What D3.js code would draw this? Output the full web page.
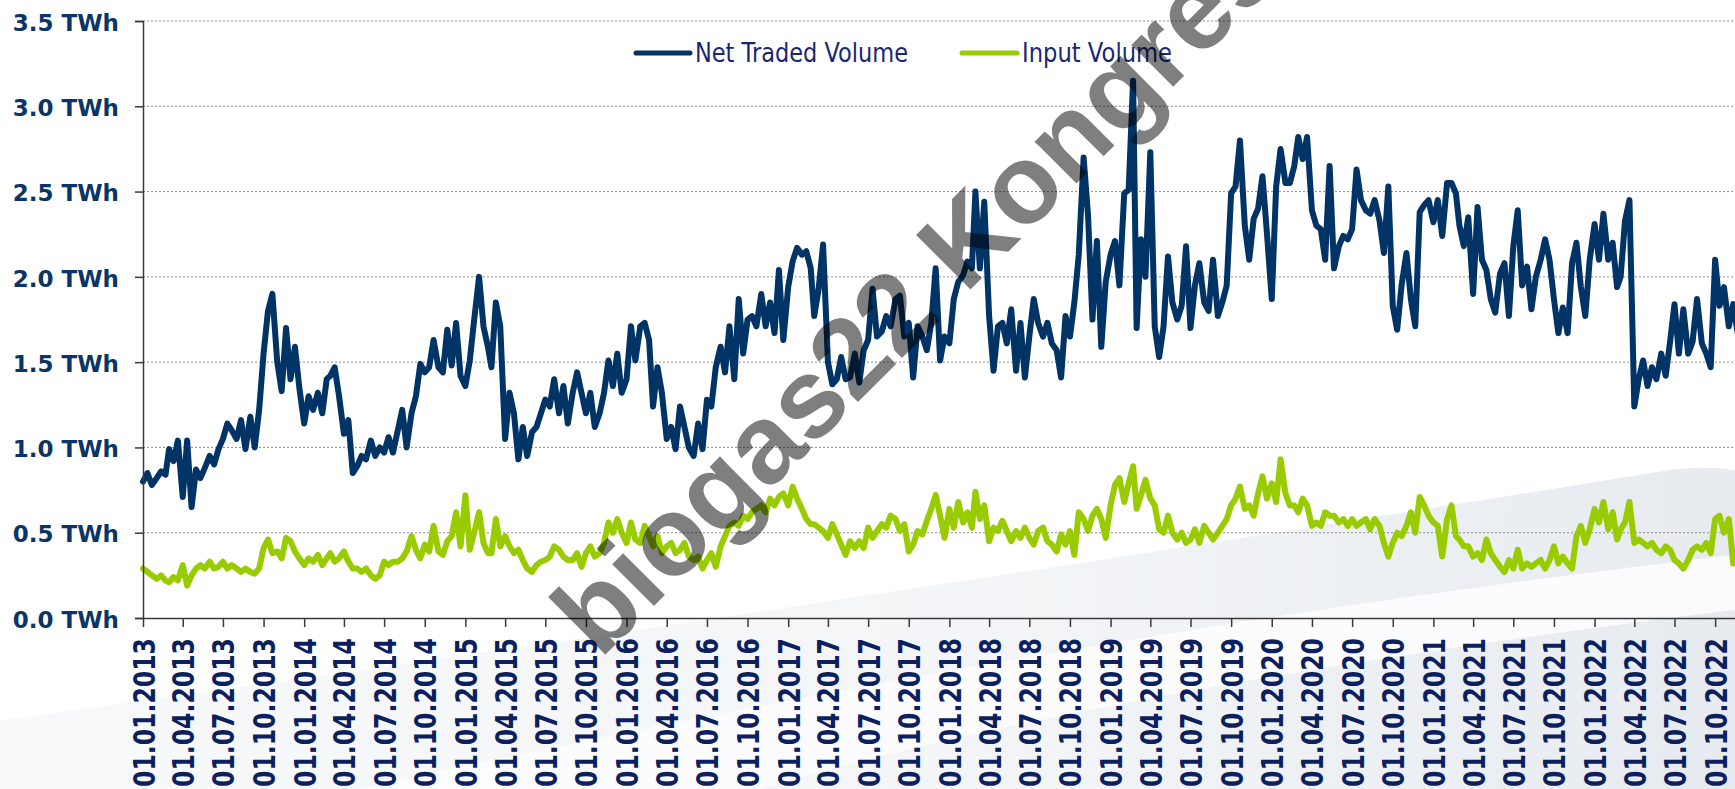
<!DOCTYPE html>
<html><head><meta charset="utf-8">
<script src="https://cdn.jsdelivr.net/npm/d3@7"></script>
<style>body{margin:0;background:#fff}svg{display:block}</style>
</head><body><svg id="c" width="1735" height="789"></svg>
<script>
// ---- data (TWh), three readings per month: days 1, 11, 21 ----
const sampleDays = [1, 11, 21];
const firstMonth = [2013, 0];
const lastMonth = [2022, 10];

const net2013 = [0.80,0.85,0.78, 0.82,0.86,0.84, 0.99,0.92,1.04, 0.71,1.04,0.65, 0.87,0.82,0.88, 0.95,0.90,0.99, 1.05,1.14,1.10, 1.05,1.16,0.99, 1.18,1.00,1.22, 1.55,1.80,1.90, 1.50,1.33,1.70, 1.40,1.59,1.35];
const net2014 = [1.14,1.30,1.22, 1.32,1.20,1.40, 1.42,1.47,1.30, 1.08,1.16,0.85, 0.89,0.95,0.93, 1.04,0.95,1.00, 0.97,1.06,0.97, 1.10,1.22,1.00, 1.20,1.30,1.49, 1.44,1.47,1.63, 1.47,1.44,1.69, 1.48,1.73,1.42];
const net2015 = [1.36,1.51,1.75, 2.00,1.71,1.59, 1.47,1.85,1.71, 1.05,1.32,1.20, 0.93,1.12,0.95, 1.09,1.12,1.20, 1.28,1.24,1.40, 1.20,1.36,1.14, 1.32,1.44,1.32, 1.20,1.32,1.12, 1.20,1.32,1.51, 1.36,1.55,1.32];
const net2016 = [1.40,1.71,1.51, 1.71,1.73,1.63, 1.24,1.47,1.32, 1.05,1.12,0.99, 1.24,1.12,1.00, 0.95,1.14,0.99, 1.28,1.24,1.47, 1.59,1.44,1.71, 1.40,1.87,1.55, 1.75,1.77,1.71, 1.90,1.71,1.85, 1.67,2.04,1.63];
const net2017 = [1.94,2.09,2.17, 2.13,2.15,2.05, 1.77,1.93,2.19, 1.50,1.37,1.40, 1.53,1.40,1.41, 1.55,1.38,1.57, 1.63,1.93,1.65, 1.68,1.77,1.71, 1.87,1.89,1.65, 1.73,1.41,1.71, 1.65,1.57,1.73, 2.05,1.51,1.65];
const net2018 = [1.61,1.87,1.97, 2.01,2.09,2.05, 2.50,2.05,2.44, 1.77,1.45,1.71, 1.73,1.61,1.81, 1.45,1.73,1.41, 1.65,1.87,1.73, 1.65,1.73,1.61, 1.57,1.41,1.77, 1.65,1.85,2.13, 2.70,2.36,1.75, 2.21,1.59,1.97];
const net2019 = [2.13,2.21,1.95, 2.49,2.51,3.15, 1.70,2.22,2.00, 2.73,1.71,1.53, 1.71,2.12,1.85, 1.75,1.83,2.18, 1.70,1.95,2.08, 1.85,1.80,2.10, 1.77,1.85,1.95, 2.49,2.53,2.80, 2.30,2.10,2.34, 2.40,2.59,2.26];
const net2020 = [1.87,2.53,2.75, 2.55,2.55,2.65, 2.82,2.69,2.82, 2.39,2.30,2.28, 2.10,2.65,2.05, 2.18,2.24,2.22, 2.28,2.63,2.45, 2.39,2.37,2.45, 2.33,2.14,2.53, 1.83,1.69,1.95, 2.14,1.87,1.71, 2.38,2.42,2.45];
const net2021 = [2.32,2.45,2.24, 2.55,2.55,2.49, 2.30,2.18,2.35, 1.90,2.41,2.10, 2.04,1.87,1.79, 2.02,2.08,1.77, 2.18,2.39,1.95, 2.06,1.81,2.00, 2.10,2.22,2.10, 1.87,1.67,1.82, 1.67,2.08,2.20, 1.94,1.77,2.10];
const net2022 = [2.31,2.10,2.37, 2.10,2.20,1.94, 2.00,2.33,2.45, 1.24,1.40,1.51, 1.36,1.47,1.40, 1.55,1.42,1.62, 1.84,1.55,1.81, 1.55,1.62,1.87, 1.61,1.55,1.47, 2.10,1.83,1.94, 1.71,1.84,1.67];

const inp2013 = [0.29,0.27,0.25, 0.23,0.25,0.22, 0.21,0.24,0.22, 0.31,0.19,0.25, 0.29,0.31,0.29, 0.33,0.29,0.30, 0.33,0.29,0.31, 0.29,0.27,0.29, 0.27,0.26,0.29, 0.41,0.46,0.38, 0.39,0.35,0.47, 0.45,0.39,0.35];
const inp2014 = [0.31,0.35,0.33, 0.37,0.31,0.35, 0.38,0.33,0.35, 0.39,0.33,0.29, 0.29,0.27,0.29, 0.25,0.23,0.25, 0.33,0.31,0.33, 0.33,0.35,0.39, 0.48,0.40,0.35, 0.43,0.39,0.54, 0.39,0.37,0.45, 0.48,0.62,0.42];
const inp2015 = [0.72,0.40,0.50, 0.62,0.44,0.38, 0.38,0.58,0.42, 0.48,0.42,0.38, 0.40,0.34,0.29, 0.27,0.31,0.33, 0.34,0.36,0.42, 0.40,0.36,0.34, 0.34,0.38,0.30, 0.38,0.42,0.36, 0.38,0.44,0.56, 0.50,0.58,0.50];
const inp2016 = [0.44,0.56,0.46, 0.44,0.54,0.48, 0.42,0.48,0.38, 0.42,0.44,0.38, 0.40,0.44,0.36, 0.34,0.36,0.29, 0.34,0.38,0.30, 0.42,0.48,0.54, 0.56,0.54,0.60, 0.58,0.62,0.64, 0.66,0.62,0.70, 0.66,0.71,0.73];
const inp2017 = [0.66,0.77,0.70, 0.64,0.58,0.55, 0.55,0.53,0.51, 0.47,0.55,0.49, 0.43,0.37,0.45, 0.41,0.45,0.41, 0.53,0.47,0.51, 0.55,0.53,0.60, 0.58,0.51,0.55, 0.39,0.43,0.51, 0.49,0.57,0.64, 0.72,0.60,0.47];
const inp2018 = [0.64,0.53,0.68, 0.56,0.62,0.53, 0.74,0.58,0.66, 0.45,0.53,0.51, 0.57,0.51,0.45, 0.51,0.47,0.53, 0.47,0.43,0.51, 0.53,0.45,0.43, 0.39,0.49,0.43, 0.51,0.37,0.62, 0.58,0.51,0.60, 0.64,0.58,0.47];
const inp2019 = [0.66,0.78,0.82, 0.68,0.79,0.89, 0.64,0.72,0.81, 0.70,0.66,0.52, 0.50,0.60,0.50, 0.46,0.50,0.44, 0.46,0.52,0.44, 0.54,0.50,0.46, 0.50,0.54,0.58, 0.66,0.70,0.77, 0.64,0.66,0.60, 0.73,0.83,0.70];
const inp2020 = [0.79,0.68,0.93, 0.73,0.66,0.66, 0.62,0.70,0.66, 0.54,0.56,0.54, 0.62,0.60,0.60, 0.56,0.58,0.54, 0.58,0.54,0.56, 0.58,0.52,0.58, 0.54,0.44,0.36, 0.44,0.50,0.48, 0.54,0.62,0.50, 0.71,0.66,0.60];
const inp2021 = [0.56,0.54,0.36, 0.58,0.66,0.48, 0.46,0.42,0.42, 0.36,0.38,0.34, 0.46,0.38,0.34, 0.30,0.27,0.34, 0.29,0.40,0.29, 0.32,0.30,0.32, 0.34,0.29,0.34, 0.42,0.32,0.36, 0.32,0.29,0.48, 0.54,0.44,0.52];
const inp2022 = [0.64,0.56,0.68, 0.52,0.62,0.46, 0.52,0.56,0.68, 0.44,0.46,0.44, 0.42,0.44,0.40, 0.38,0.42,0.40, 0.34,0.32,0.29, 0.34,0.40,0.42, 0.40,0.44,0.38, 0.58,0.60,0.50, 0.58,0.32,0.40];

const yTickValues = [0, 0.5, 1.0, 1.5, 2.0, 2.5, 3.0, 3.5];
const seriesNames = ["Net Traded Volume", "Input Volume"];
const seriesColors = ["#003366", "#99cc00"];

// ---- build ----
const netTraded = [].concat(net2013, net2014, net2015, net2016, net2017, net2018, net2019, net2020, net2021, net2022);
const inputVol = [].concat(inp2013, inp2014, inp2015, inp2016, inp2017, inp2018, inp2019, inp2020, inp2021, inp2022);
const dates = [];
for (let yr = firstMonth[0], m = firstMonth[1]; yr < lastMonth[0] || (yr === lastMonth[0] && m <= lastMonth[1]); ) {
  sampleDays.forEach(d => dates.push(new Date(Date.UTC(yr, m, d))));
  m++; if (m > 11) { m = 0; yr++; }
}

const W = 1735, H = 789;
const svg = d3.select("#c");
svg.append("rect").attr("width", W).attr("height", H).attr("fill", "#fff");

// decorative background swooshes
const defs = svg.append("defs");
const g1 = defs.append("linearGradient").attr("id", "sw1").attr("x1", "0").attr("x2", "1").attr("y1", "0").attr("y2", "0");
g1.append("stop").attr("offset", "0").attr("stop-color", "#f6f7f9");
g1.append("stop").attr("offset", "0.6").attr("stop-color", "#eef1f4");
g1.append("stop").attr("offset", "1").attr("stop-color", "#dfe4ea");
svg.append("path").attr("fill", "url(#sw1)").attr("opacity", 0.75)
  .attr("d", "M0,789 L0,720 C450,660 1050,570 1670,470 C1700,466 1720,468 1735,470 L1735,789 Z");
svg.append("path").attr("fill", "#fdfdfe").attr("opacity", 0.9)
  .attr("d", "M360,789 C760,700 1250,610 1735,555 L1735,610 C1320,660 950,730 760,789 Z");

const x = d3.scaleUtc()
  .domain([new Date(Date.UTC(2013, 0, 1)), new Date(Date.UTC(2022, 10, 15))])
  .range([143, 1735]);
const y = d3.scaleLinear().domain([0, 3.5]).range([618, 21]);

// gridlines
svg.append("g").selectAll("line").data(yTickValues.filter(v => v > 0)).join("line")
  .attr("x1", 143).attr("x2", W).attr("y1", d => y(d)).attr("y2", d => y(d))
  .attr("stroke", "#8f8f8f").attr("stroke-width", 1).attr("stroke-dasharray", "2,2");

// series
const line = d3.line().x(d => x(d[0])).y(d => y(d[1])).curve(d3.curveLinear);
[netTraded, inputVol].forEach((vals, i) => {
  svg.append("path").datum(dates.map((d, k) => [d, vals[k]]))
    .attr("fill", "none").attr("stroke", seriesColors[i]).attr("stroke-width", 6)
    .attr("stroke-linejoin", "round").attr("stroke-linecap", "round")
    .attr("d", line);
});

// y axis
const yAxis = svg.append("g").attr("transform", "translate(143,0)")
  .call(d3.axisLeft(y).tickValues(yTickValues).tickSize(8).tickPadding(16)
    .tickFormat(d => d3.format(".1f")(d) + " TWh"));
yAxis.select(".domain").attr("stroke", "#3a3a3a").attr("stroke-width", 1.5);
yAxis.selectAll(".tick line").attr("stroke", "#3a3a3a").attr("stroke-width", 1.5);
yAxis.selectAll(".tick text").attr("font-family", "'DejaVu Sans', Verdana, sans-serif")
  .attr("font-weight", "bold").attr("font-size", 23).attr("fill", "#0a3566").attr("dy", "0.4em");

// x axis
const xTickValues = d3.utcMonths(new Date(Date.UTC(2013, 0, 1)), new Date(Date.UTC(2022, 10, 2)), 3);
const xAxis = svg.append("g").attr("transform", "translate(0,618)")
  .call(d3.axisBottom(x).tickValues(xTickValues).tickSize(9).tickSizeOuter(0)
    .tickFormat(d3.utcFormat("%d.%m.%Y")));
xAxis.select(".domain").attr("stroke", "#3a3a3a").attr("stroke-width", 1.5);
xAxis.selectAll(".tick line").attr("stroke", "#3a3a3a").attr("stroke-width", 1.5);
xAxis.selectAll(".tick text")
  .attr("transform", "rotate(-90)")
  .attr("x", -20).attr("y", 11).attr("dy", 0)
  .attr("text-anchor", "end")
  .attr("font-family", "'DejaVu Sans', Verdana, sans-serif").attr("font-weight", "bold")
  .attr("font-size", 30).attr("fill", "#0c1f5e")
  .attr("textLength", 149).attr("lengthAdjust", "spacingAndGlyphs");

// legend
const legendItems = [
  { line: [636, 690], text: 695, len: 213 },
  { line: [962, 1017], text: 1022, len: 150 }
];
legendItems.forEach((it, i) => {
  svg.append("line").attr("x1", it.line[0]).attr("x2", it.line[1]).attr("y1", 53).attr("y2", 53)
    .attr("stroke", seriesColors[i]).attr("stroke-width", 5).attr("stroke-linecap", "round");
  svg.append("text").attr("x", it.text).attr("y", 62).text(seriesNames[i])
    .attr("font-family", "'DejaVu Sans', Tahoma, sans-serif").attr("font-size", 26)
    .attr("fill", "#1a2670").attr("textLength", it.len).attr("lengthAdjust", "spacingAndGlyphs");
});

// watermark
svg.append("text").text("biogas22 Kongress")
  .attr("transform", "translate(600,660) rotate(-45)")
  .attr("font-family", "'Liberation Sans', Arial, sans-serif").attr("font-weight", "bold")
  .attr("font-size", 112).attr("fill", "#000").attr("fill-opacity", 0.5);
</script>
</body></html>
